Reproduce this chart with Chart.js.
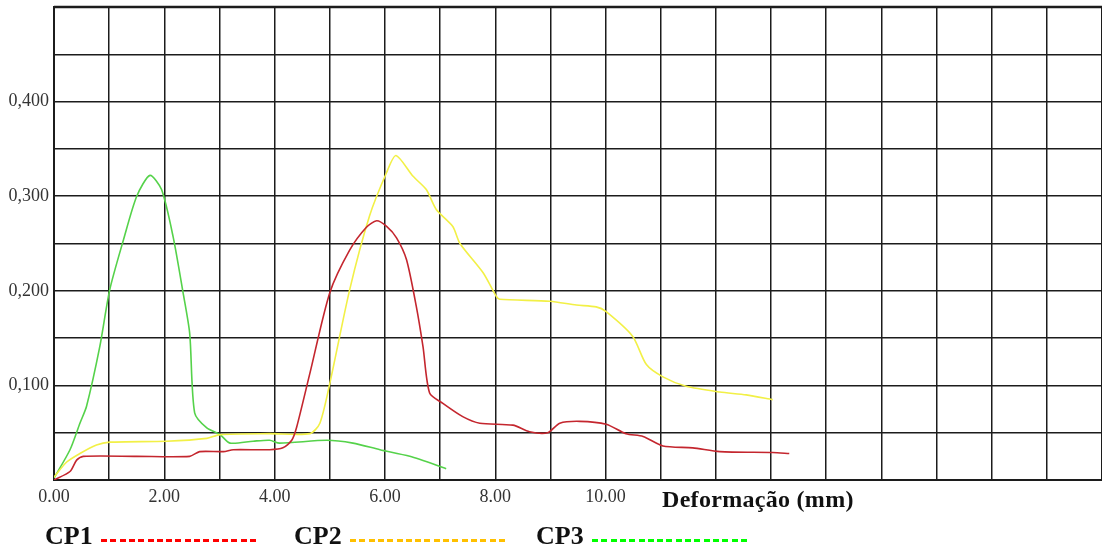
<!DOCTYPE html>
<html>
<head>
<meta charset="utf-8">
<script src="https://cdn.jsdelivr.net/npm/chart.js@4.4.1/dist/chart.umd.min.js"></script>
<style>
    html, body { margin: 0; padding: 0; background: #fff; }
    #wrap { position: relative; width: 1102px; height: 552px; overflow: hidden; }
    #chart { position: absolute; left: 0; top: 0; }
    .serif { font-family: "Liberation Serif", "Times New Roman", serif; color: #111; }
    #axis-title { position: absolute; left: 662px; top: 486px; font-size: 24px; font-weight: bold; letter-spacing: 0.3px; }
    .leg { position: absolute; top: 521px; font-size: 26px; font-weight: bold; line-height: 30px; }
    .dash { position: absolute; top: 539px; height: 3px; width: 158px; }
</style>
</head>
<body>
<div id="wrap">
    <canvas id="chart" width="1102" height="552"></canvas>
    <div id="axis-title" class="serif">Deformação (mm)</div>
</div>
<script>
// valores: deformação (mm) x força
const cp1Def   = [0, 0.29, 0.41, 0.53, 1.5, 2.46, 2.64, 3.07, 3.25, 3.91, 4.15, 4.31, 4.40, 4.64, 5.00, 5.36, 5.66, 5.85, 6.03, 6.21, 6.39, 6.57, 6.69, 6.81, 7.05, 7.41, 7.72, 8.32, 8.62, 8.95, 9.17, 9.53, 10.01, 10.37, 10.68, 11.04, 11.58, 12.07, 13.03, 13.33];
const cp1Force = [0, 0.009, 0.021, 0.025, 0.025, 0.025, 0.030, 0.030, 0.032, 0.032, 0.034, 0.042, 0.056, 0.113, 0.198, 0.243, 0.267, 0.274, 0.268, 0.256, 0.233, 0.183, 0.141, 0.092, 0.081, 0.067, 0.060, 0.058, 0.051, 0.050, 0.060, 0.062, 0.059, 0.049, 0.046, 0.036, 0.034, 0.030, 0.029, 0.028];

const cp2Def   = [0, 0.23, 0.47, 0.77, 1.01, 2.04, 2.77, 3.01, 3.91, 4.64, 4.82, 5.00, 5.36, 5.72, 6.03, 6.20, 6.51, 6.75, 6.93, 7.23, 7.36, 7.78, 8.02, 8.08, 8.99, 9.47, 9.83, 10.01, 10.49, 10.74, 11.04, 11.46, 12.07, 12.55, 13.03];
const cp2Force = [0.003, 0.019, 0.028, 0.037, 0.040, 0.041, 0.044, 0.048, 0.049, 0.049, 0.060, 0.102, 0.201, 0.279, 0.325, 0.343, 0.321, 0.307, 0.286, 0.268, 0.250, 0.219, 0.194, 0.191, 0.189, 0.185, 0.183, 0.178, 0.152, 0.122, 0.109, 0.099, 0.093, 0.090, 0.085];

const cp3Def   = [0, 0.29, 0.47, 0.59, 0.83, 1.01, 1.26, 1.50, 1.74, 1.95, 2.16, 2.34, 2.46, 2.55, 2.77, 3.01, 3.19, 3.61, 3.91, 4.09, 4.94, 5.42, 5.91, 6.45, 7.11];
const cp3Force = [0.002, 0.032, 0.060, 0.078, 0.141, 0.201, 0.254, 0.300, 0.322, 0.307, 0.257, 0.198, 0.155, 0.071, 0.055, 0.048, 0.039, 0.041, 0.042, 0.039, 0.042, 0.039, 0.032, 0.025, 0.012];

const seriesNames  = ['CP1', 'CP2', 'CP3'];
const lineColors   = ['#c4262e', '#f2f046', '#55d24a'];
const legendColors = ['#ff0000', '#ffc000', '#00ff00'];

const xTickLabels = ['0.00', '2.00', '4.00', '6.00', '8.00', '10.00'];
const yTickLabels = ['0,100', '0,200', '0,300', '0,400'];

function toPoints(xs, ys) {
    return xs.map((x, i) => ({ x: x, y: ys[i] }));
}

// legenda em baixo (texto + tracejado)
const legendLeft = [45, 294, 536];
const wrap = document.getElementById('wrap');
seriesNames.forEach((name, i) => {
    const lab = document.createElement('div');
    lab.className = 'leg serif';
    lab.style.left = legendLeft[i] + 'px';
    lab.textContent = name;
    wrap.appendChild(lab);

    const d = document.createElement('div');
    d.className = 'dash';
    d.style.left = (legendLeft[i] + 56) + 'px';
    d.style.background = `repeating-linear-gradient(90deg, ${legendColors[i]} 0 6px, transparent 6px 9.3px)`;
    wrap.appendChild(d);
});

const gridColor = '#1c1c1c';
const tickFont = { family: '"Liberation Serif", "Times New Roman", serif', size: 18 };

new Chart(document.getElementById('chart'), {
    type: 'line',
    data: {
        datasets: [
            { label: seriesNames[0], data: toPoints(cp1Def, cp1Force), borderColor: lineColors[0] },
            { label: seriesNames[1], data: toPoints(cp2Def, cp2Force), borderColor: lineColors[1] },
            { label: seriesNames[2], data: toPoints(cp3Def, cp3Force), borderColor: lineColors[2] }
        ].map(ds => Object.assign(ds, { borderWidth: 1.6, pointRadius: 0, tension: 0.25, fill: false }))
    },
    options: {
        responsive: false,
        animation: false,
        layout: { padding: { top: 7, right: 0, left: 0, bottom: 0 } },
        plugins: { legend: { display: false }, tooltip: { enabled: false } },
        scales: {
            x: {
                type: 'linear',
                min: 0,
                max: 19,
                afterFit: (s) => { s.height = 72; s.paddingLeft = 0; s.paddingRight = 0; },
                grid: { color: gridColor, lineWidth: 1.5, drawTicks: false },
                border: { color: gridColor, width: 2 },
                ticks: {
                    stepSize: 1,
                    autoSkip: false,
                    maxRotation: 0,
                    padding: 6,
                    color: '#333',
                    font: tickFont,
                    callback: (v) => {
                        const s = Number(v).toFixed(2);
                        return xTickLabels.includes(s) ? s : '';
                    }
                }
            },
            y: {
                min: 0,
                max: 0.5,
                afterFit: (s) => { s.width = 54; s.paddingTop = 0; s.paddingBottom = 0; },
                grid: { color: gridColor, lineWidth: 1.5, drawTicks: false },
                border: { color: gridColor, width: 2 },
                ticks: {
                    stepSize: 0.05,
                    autoSkip: false,
                    padding: 5,
                    color: '#333',
                    font: tickFont,
                    callback: (v) => {
                        const s = Number(v).toFixed(3).replace('.', ',');
                        return yTickLabels.includes(s) ? s : '';
                    }
                }
            }
        }
    },
    plugins: [{
        // borda superior mais grossa, como no original
        id: 'topBorder',
        afterDraw(chart) {
            const { ctx, chartArea } = chart;
            ctx.save();
            ctx.strokeStyle = gridColor;
            ctx.lineWidth = 2.5;
            ctx.beginPath();
            ctx.moveTo(chartArea.left, chartArea.top);
            ctx.lineTo(chartArea.right, chartArea.top);
            ctx.stroke();
            ctx.restore();
        }
    }]
});
</script>
</body>
</html>
